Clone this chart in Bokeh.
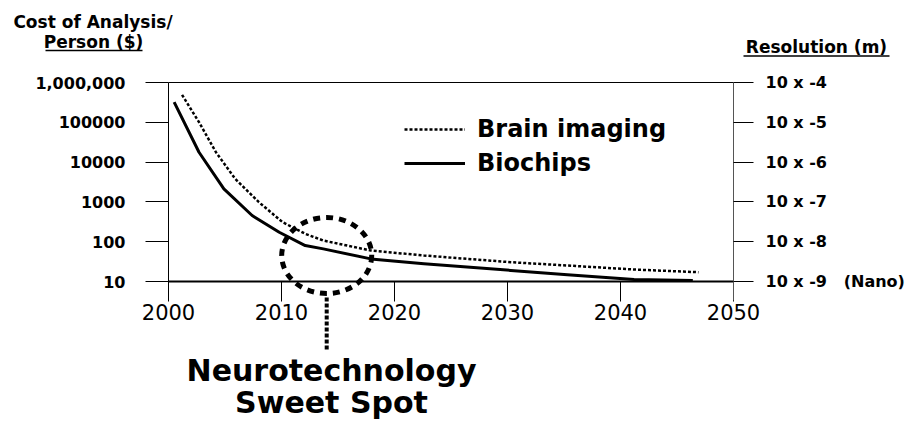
from bokeh.plotting import figure
from bokeh.models import (Range1d, LogAxis, LinearAxis, FixedTicker, Label,
                          Legend, LegendItem, Grid)
from bokeh.embed import file_html
from bokeh.resources import INLINE

# ---------------- data ----------------
YEAR_TICKS = [2000, 2010, 2020, 2030, 2040, 2050]
COST_TICKS = [10, 100, 1000, 10000, 100000, 1000000]
COST_LABELS = ["10", "100", "1000", "10000", "100000", "1,000,000"]
RES_LABELS = ["10 x -9\u00a0\u00a0\u00a0(Nano)", "10 x -8", "10 x -7",
              "10 x -6", "10 x -5", "10 x -4"]

IMAGING_YEARS = [2001.2, 2002.7, 2004.2, 2005.9, 2008.0, 2010.1, 2012.1,
                 2013.7, 2017.9, 2022.6, 2030.3, 2035.3, 2041.2, 2046.9]
IMAGING_COST = [491000, 100700, 17700, 3800, 982, 309, 158,
                107, 60, 45, 30.5, 25.2, 20, 17.1]

BIOCHIP_YEARS = [2000.5, 2002.7, 2004.9, 2007.4, 2009.8, 2012.1, 2013.7,
                 2017.9, 2022.6, 2030.3, 2035.3, 2041.2, 2046.4]
BIOCHIP_COST = [320000, 17700, 2130, 455, 173, 80, 66,
                37, 28, 19, 14.7, 11.2, 10.6]

SWEET_YEAR = 2014
SWEET_COST = 45

# ---------------- layout ----------------
W, H = 908, 420
OFF = 0                            # page offset of the canvas
X0_PAGE, PX_YEAR = 168, 11.3       # page x of year 2000, px per year
Y10_PAGE, PX_DEC = 281, 39.8       # page y of cost 10, px per decade


def xd(px):
    return 2000 + (px - X0_PAGE) / PX_YEAR


def yd(py):
    return 10 ** (1 + (Y10_PAGE - py) / PX_DEC)


p = figure(width=W, height=H,
           x_range=Range1d(xd(OFF), xd(OFF + W)),
           y_range=Range1d(yd(OFF + H), yd(OFF)),
           y_axis_type="log", x_axis_location=None, y_axis_location=None,
           min_border=0, toolbar_location=None, output_backend="svg",
           outline_line_color=None, background_fill_color="white",
           border_fill_color="white")
for r in p.center:
    if isinstance(r, Grid):
        r.visible = False

FONT = "DejaVu Sans"

left = LogAxis(fixed_location=2000, bounds=(yd(300), 1e6),
               ticker=FixedTicker(ticks=COST_TICKS),
               major_label_overrides={float(t): l for t, l in zip(COST_TICKS, COST_LABELS)},
               major_tick_out=23, major_tick_in=0, minor_tick_line_color=None,
               major_label_standoff=20, major_label_text_font=FONT,
               major_label_text_font_style="bold", major_label_text_font_size="16px",
               major_label_text_color="black", axis_line_color="black",
               major_tick_line_color="black")
p.add_layout(left, "left")

right = LogAxis(fixed_location=2050, bounds=(yd(300), 1e6),
                ticker=FixedTicker(ticks=COST_TICKS),
                major_label_overrides={float(t): l for t, l in zip(COST_TICKS, RES_LABELS)},
                major_tick_out=20, major_tick_in=0, minor_tick_line_color=None,
                major_label_standoff=12, major_label_text_font=FONT,
                major_label_text_font_style="bold", major_label_text_font_size="16px",
                major_label_text_color="black", axis_line_color="#555555",
                major_tick_line_color="black")
p.add_layout(right, "right")

below = LinearAxis(fixed_location=10, bounds=(2000, 2050),
                   ticker=FixedTicker(ticks=YEAR_TICKS),
                   major_tick_out=20, major_tick_in=0, minor_tick_line_color=None,
                   axis_line_width=2, axis_line_color="black",
                   major_tick_line_color="black", major_label_standoff=2,
                   major_label_text_font=FONT, major_label_text_font_size="21px",
                   major_label_text_color="black")
p.add_layout(below, "below")

top = LinearAxis(fixed_location=1e6, bounds=(2000, 2050),
                 ticker=FixedTicker(ticks=[]), major_tick_line_color=None,
                 minor_tick_line_color=None, major_label_text_color=None,
                 axis_line_color="black")
p.add_layout(top, "above")

# ---------------- series ----------------
r_img = p.line(IMAGING_YEARS, IMAGING_COST, line_color="black", line_width=2.5,
               line_dash="3 2")
r_bio = p.line(BIOCHIP_YEARS, BIOCHIP_COST, line_color="black", line_width=3,
               line_join="round")

legend = Legend(items=[LegendItem(label="Brain imaging", renderers=[r_img]),
                       LegendItem(label="Biochips", renderers=[r_bio])],
                location=(404, 243), orientation="vertical",
                glyph_width=61, glyph_height=20, label_standoff=12, spacing=6,
                padding=0, margin=0, border_line_color=None,
                background_fill_color=None, label_text_font=FONT,
                label_text_font_style="bold", label_text_font_size="24px",
                label_text_color="black", label_height=28)
p.add_layout(legend, "center")

# ---------------- sweet spot annotation ----------------
p.ellipse(x=[SWEET_YEAR], y=[SWEET_COST], width=90, height=76,
          width_units="screen", height_units="screen", fill_color=None,
          line_color="black", line_width=5, line_dash="7 6")
p.segment(x0=[SWEET_YEAR], y0=[yd(297)], x1=[SWEET_YEAR], y1=[yd(351)],
          line_color="black", line_width=4, line_dash="4 2")

for txt, py in [("Neurotechnology", 370), ("Sweet Spot", 402)]:
    p.add_layout(Label(x=xd(331), y=yd(py), text=txt, text_align="center",
                       text_baseline="alphabetic", text_font=FONT,
                       text_font_style="bold", text_font_size="30px",
                       text_color="black"))

# ---------------- axis titles ----------------
for txt, px, py in [("Cost of Analysis/", 92.5, 21), ("Person ($)", 93, 41),
                    ("Resolution (m)", 816, 46)]:
    p.add_layout(Label(x=xd(px), y=yd(py), text=txt, text_align="center",
                       text_baseline="alphabetic", text_font=FONT,
                       text_font_style="bold", text_font_size="17px",
                       text_color="black"))

p.segment(x0=[xd(45), xd(743)], y0=[yd(50), yd(55.5)],
          x1=[xd(142), xd(889)], y1=[yd(50), yd(55.5)],
          line_color="black", line_width=1.5)

open("out.html", "w").write(file_html(p, INLINE))
